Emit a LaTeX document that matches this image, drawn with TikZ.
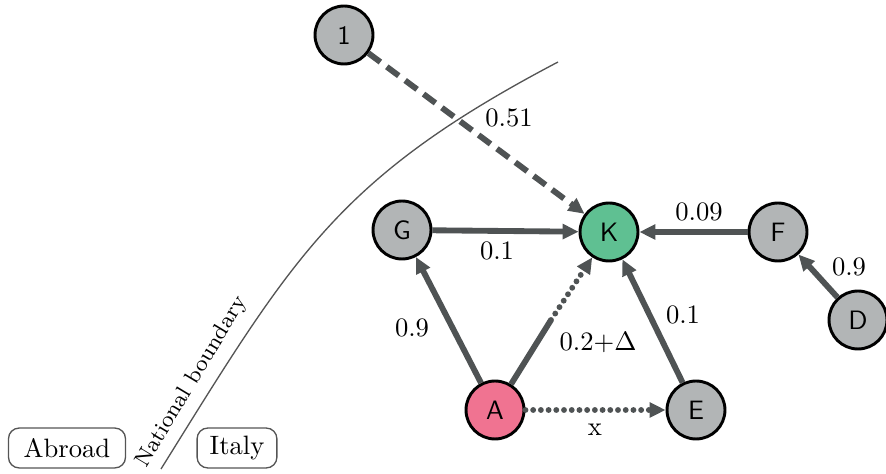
\documentclass[tikz,border=0pt]{standalone}
\usetikzlibrary{arrows.meta}
\definecolor{nodegray}{HTML}{B2B5B6}
\definecolor{kgreen}{HTML}{5FC092}
\definecolor{apink}{HTML}{F07391}
\definecolor{edgegray}{HTML}{4F5354}
\definecolor{boundgray}{HTML}{555555}
\begin{document}
\begin{tikzpicture}[x=0.376pt,y=-0.376pt,
  vtx/.style={circle, draw=black, line width=1.1pt, fill=nodegray, minimum size=21.8pt, inner sep=0pt, font=\sffamily},
  edgeline/.style={draw=edgegray, line width=2.2pt},
  edge/.style={edgeline, -{Triangle[length=6pt,width=5.5pt]}},
  dotline/.style={dash pattern=on 0pt off 2.9pt, line cap=round},
  dashline/.style={dash pattern=on 5.6pt off 3pt},
  lbl/.style={inner sep=0pt},
  region/.style={draw=boundgray, rounded corners=4pt, line width=0.5pt, minimum width=44pt, minimum height=15pt, inner sep=2pt}
]
\useasboundingbox (0,0) rectangle (886,474);
% boundary
\coordinate (bstart) at (161,469);
\coordinate (bend) at (558,62);
\draw[boundgray, line width=0.5pt] (bstart) .. controls (293,257) and (337,178) .. (bend);
\node[lbl, rotate=59, font=\fontsize{8.4}{10}\selectfont] (nb) at (192,382) {National boundary};
\node[region] (abroad) at (67,448) {Abroad};
\node[region, minimum width=30pt] (italy) at (237,448) {Italy};
% nodes
\node[vtx] (one) at (344,35) {1};
\node[vtx, fill=kgreen] (K) at (609,232) {K};
\node[vtx] (G) at (402,230) {G};
\node[vtx] (F) at (778,232) {F};
\node[vtx] (D) at (858,320) {D};
\node[vtx, fill=apink] (A) at (495,410) {A};
\node[vtx] (E) at (696,410) {E};
\coordinate (mid) at (551,320);
% edges
\draw[edge, dashline] (one) -- (K);
\draw[edge] (G) -- (K);
\draw[edge] (F) -- (K);
\draw[edge] (D) -- (F);
\draw[edge] (A) -- (G);
\draw[edge] (E) -- (K);
\draw[edgeline] (A) -- (mid);
\draw[edge, dotline] (mid) -- (K);
\draw[edge, dotline] (A) -- (E);
% labels
\node[lbl] (l51) at (509,118) {0.51};
\node[lbl] (lGK) at (497,251) {0.1};
\node[lbl] (lFK) at (699,212) {0.09};
\node[lbl] (lDF) at (849,267) {0.9};
\node[lbl] (lEK) at (683,315) {0.1};
\node[lbl] (lAG) at (412,328) {0.9};
\node[lbl] (lAK) at (598,343) {0.2+$\Delta$};
\node[lbl] (lAE) at (595,430) {x};
\end{tikzpicture}
\end{document}
